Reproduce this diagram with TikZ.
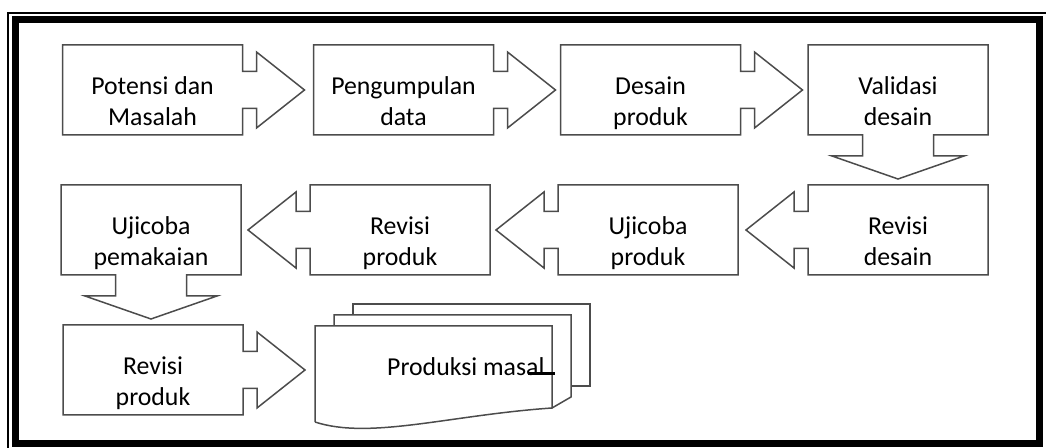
\documentclass[tikz,border=0pt]{standalone}
\usepackage{fontspec}
\setmainfont{Carlito}
\usetikzlibrary{calc}

% box outlines with a block arrow on one side
\newcommand{\rightcall}[1]{%
	\draw[outline] (#1.north west) -- (#1.north east) -- ($(#1.east)+(0,-18.5)$) -- ++(14,0) -- ++(0,-19.5)
		-- ($(#1.east)+(62,0)$) -- ($(#1.east)+(14,38)$) -- ++(0,-19.5) -- ++(-14,0)
		-- (#1.south east) -- (#1.south west) -- cycle;}
\newcommand{\leftcall}[1]{%
	\draw[outline] (#1.north east) -- (#1.north west) -- ($(#1.west)+(0,-18.5)$) -- ++(-14,0) -- ++(0,-19.5)
		-- ($(#1.west)+(-62,0)$) -- ($(#1.west)+(-14,38)$) -- ++(0,-19.5) -- ++(14,0)
		-- (#1.south west) -- (#1.south east) -- cycle;}
\newcommand{\downcall}[1]{%
	\draw[outline] (#1.south west) -- (#1.north west) -- (#1.north east) -- (#1.south east)
		-- ($(#1.south)+(35.5,0)$) -- ++(0,21) -- ++(30.5,0) -- ($(#1.south)+(0,44)$)
		-- ($(#1.south)+(-66,21)$) -- ++(30.5,0) -- ++(0,-21) -- cycle;}

\begin{document}
\begin{tikzpicture}[x=0.5pt, y=-0.5pt,
	stepbox/.style={rectangle, minimum width=90pt, minimum height=45pt, inner sep=0pt, outer sep=0pt,
		align=center, text height=40.5pt, text depth=4.5pt, font=\fontsize{12.9}{15.5}\selectfont},
	outline/.style={draw=black!70, line width=0.75pt, line join=miter}]
	\useasboundingbox (0,0) rectangle (1046,448);

	% page frame
	\draw[line width=0.65pt] (8,448) -- (8,13) -- (1046,13);
	\draw[line width=3.5pt] (15,19.5) rectangle (1039,444);

	\node[stepbox] (1) at (152.5, 90) {Potensi dan\\Masalah};
	\node[stepbox] (2) at (403.5, 90) {Pengumpulan\\data};
	\node[stepbox] (3) at (650.5, 90) {Desain\\produk};
	\node[stepbox] (4) at (898, 90) {Validasi\\desain};
	\node[stepbox] (5) at (898, 230) {Revisi\\desain};
	\node[stepbox] (6) at (648, 230) {Ujicoba\\produk};
	\node[stepbox] (7) at (400, 230) {Revisi\\produk};
	\node[stepbox] (8) at (151, 230) {Ujicoba\\pemakaian};
	\node[stepbox] (9) at (153, 370) {Revisi\\produk};
	\node[stepbox, minimum width=118.5pt, minimum height=41pt, text width=111pt, align=flush right,
		text height=, text depth=] (10) at (433.5, 367) {Produksi masal};

	% Draw the boxes with their arrows
	\rightcall{1}
	\rightcall{2}
	\rightcall{3}
	\downcall{4}
	\leftcall{5}
	\leftcall{6}
	\leftcall{7}
	\downcall{8}
	\rightcall{9}

	% stacked documents
	\draw[outline] ($(10.north west)+(38,-11)$) -- ($(10.north west)+(38,-22)$) -- ($(10.north east)+(38,-22)$)
		-- ($(10.south east)+(38,-22)$) -- ($(10.south east)+(19,-22)$);
	\draw[outline] ($(10.north west)+(19,0)$) -- ($(10.north west)+(19,-11)$) -- ($(10.north east)+(19,-11)$)
		-- ($(10.south east)+(19,-11)$) -- (10.south east);
	\draw[outline] ($(10.south west)+(0,14)$) -- (10.north west) -- (10.north east) -- (10.south east)
		.. controls ($(10.south east)+(-102,7)$) and ($(10.south west)+(55,32)$) .. ($(10.south west)+(0,14)$);
	\draw[line width=1.5pt] ($(10.east)+(-24,7)$) -- ($(10.east)+(3,7)$);
\end{tikzpicture}
\end{document}
